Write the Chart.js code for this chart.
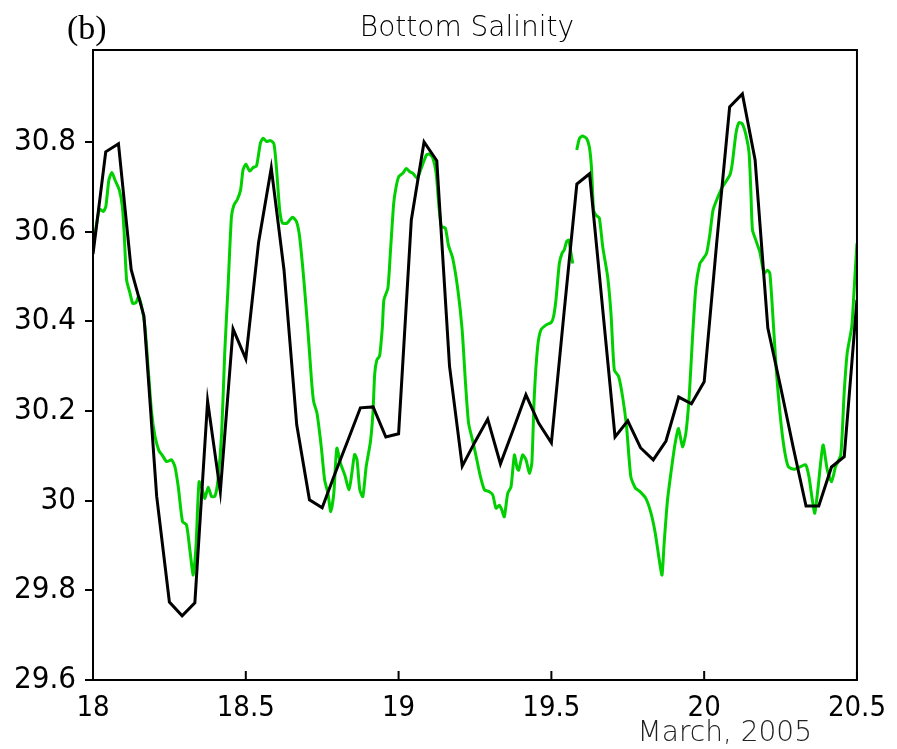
<!DOCTYPE html>
<html>
<head>
<meta charset="utf-8">
<script src="https://cdn.jsdelivr.net/npm/chart.js@4.4.1/dist/chart.umd.min.js"></script>
<style>
  html, body { margin: 0; padding: 0; background: #fff; }
  #wrap { width: 897px; height: 749px; }
</style>
</head>
<body>
<div id="wrap"><canvas id="chart-salinity"></canvas></div>
<script>
// observed (black), hourly from 18 March 00:00 to 20.5
var startDay = 18;
var observed = [30.55, 30.778, 30.796, 30.515, 30.412, 30.01, 29.774, 29.743, 29.772, 30.222,
    30.02, 30.383, 30.316, 30.575, 30.742, 30.515, 30.169, 30.002, 29.984, 30.06,
    30.133, 30.207, 30.209, 30.142, 30.149, 30.626, 30.8, 30.758, 30.30, 30.077,
    30.131, 30.182, 30.082, 30.158, 30.236, 30.173, 30.129, 30.421, 30.706, 30.729,
    30.436, 30.142, 30.178, 30.118, 30.091, 30.133, 30.231, 30.216, 30.265, 30.58,
    30.878, 30.907, 30.76, 30.385, 30.254, 30.118, 29.988, 29.988, 30.075, 30.098,
    30.448];

// model (green)
var modelDays = [18.000, 18.007, 18.021, 18.034, 18.042, 18.052, 18.062, 18.072, 18.086, 18.096,
    18.102, 18.110, 18.121, 18.130, 18.141, 18.149, 18.159, 18.170, 18.181, 18.192,
    18.203, 18.216, 18.226, 18.241, 18.257, 18.268, 18.279, 18.293, 18.306, 18.317,
    18.328, 18.337, 18.347, 18.358, 18.366, 18.377, 18.388, 18.399, 18.409, 18.421,
    18.431, 18.442, 18.453, 18.461, 18.472, 18.483, 18.491, 18.500, 18.513, 18.524,
    18.535, 18.548, 18.557, 18.568, 18.581, 18.592, 18.600, 18.611, 18.620, 18.635,
    18.653, 18.666, 18.676, 18.690, 18.704, 18.715, 18.722, 18.733, 18.747, 18.758,
    18.769, 18.778, 18.788, 18.798, 18.810, 18.824, 18.838, 18.847, 18.856, 18.864,
    18.873, 18.883, 18.894, 18.908, 18.916, 18.922, 18.929, 18.938, 18.947, 18.952,
    18.965, 18.973, 18.984, 18.992, 19.001, 19.014, 19.025, 19.036, 19.047, 19.061,
    19.074, 19.091, 19.101, 19.112, 19.123, 19.132, 19.140, 19.153, 19.163, 19.177,
    19.194, 19.208, 19.219, 19.229, 19.243, 19.254, 19.268, 19.281, 19.297, 19.308,
    19.319, 19.330, 19.338, 19.346, 19.357, 19.368, 19.379, 19.388, 19.393, 19.406,
    19.417, 19.428, 19.436, 19.444, 19.455, 19.466, 19.483, 19.499, 19.507, 19.515,
    19.526, 19.535, 19.542, 19.550, 19.557, 19.564, 19.570, 19.577, 19.583, 19.592,
    19.602, 19.615, 19.624, 19.631, 19.638, 19.646, 19.657, 19.668, 19.684, 19.695,
    19.706, 19.720, 19.733, 19.746, 19.760, 19.775, 19.790, 19.809, 19.826, 19.840,
    19.853, 19.862, 19.869, 19.880, 19.894, 19.905, 19.916, 19.929, 19.940, 19.951,
    19.962, 19.973, 19.986, 19.994, 20.008, 20.019, 20.029, 20.043, 20.060, 20.084,
    20.092, 20.104, 20.114, 20.125, 20.138, 20.147, 20.153, 20.158, 20.169, 20.182,
    20.196, 20.207, 20.215, 20.225, 20.236, 20.247, 20.261, 20.275, 20.294, 20.316,
    20.332, 20.343, 20.354, 20.362, 20.373, 20.389, 20.403, 20.417, 20.430, 20.447,
    20.458, 20.468, 20.483, 20.490, 20.500];
var modelVals = [30.574, 30.597, 30.650, 30.645, 30.656, 30.715, 30.732, 30.715, 30.693, 30.656,
    30.596, 30.492, 30.463, 30.440, 30.442, 30.455, 30.433, 30.388, 30.291, 30.195,
    30.143, 30.111, 30.102, 30.087, 30.091, 30.076, 30.031, 29.953, 29.946, 29.890,
    29.834, 29.897, 30.042, 30.024, 30.005, 30.030, 30.009, 30.010, 30.046, 30.150,
    30.329, 30.477, 30.633, 30.659, 30.671, 30.693, 30.738, 30.750, 30.735, 30.743,
    30.746, 30.798, 30.808, 30.801, 30.803, 30.796, 30.745, 30.648, 30.619, 30.619,
    30.632, 30.622, 30.589, 30.492, 30.373, 30.269, 30.221, 30.195, 30.120, 30.046,
    30.016, 29.975, 30.016, 30.117, 30.083, 30.057, 30.024, 30.061, 30.103, 30.091,
    30.024, 30.009, 30.076, 30.132, 30.195, 30.284, 30.314, 30.323, 30.388, 30.448,
    30.474, 30.552, 30.663, 30.700, 30.723, 30.730, 30.741, 30.734, 30.730, 30.719,
    30.741, 30.771, 30.773, 30.764, 30.730, 30.656, 30.611, 30.608, 30.570, 30.541,
    30.470, 30.381, 30.262, 30.173, 30.132, 30.098, 30.053, 30.024, 30.020, 30.013,
    29.983, 29.990, 29.979, 29.964, 30.016, 30.031, 30.102, 30.072, 30.068, 30.102,
    30.091, 30.061, 30.083, 30.232, 30.343, 30.381, 30.392, 30.397, 30.410, 30.448,
    30.529, 30.552, 30.559, 30.578, 30.581, 30.552, 30.529, null, 30.782, 30.808,
    30.813, 30.808, 30.790, 30.745, 30.648, 30.637, 30.630, 30.566, 30.500, 30.418,
    30.291, 30.277, 30.232, 30.165, 30.053, 30.028, 30.020, 30.005, 29.972, 29.927,
    29.868, 29.834, 29.905, 30.001, 30.076, 30.128, 30.161, 30.120, 30.150, 30.232,
    30.366, 30.477, 30.529, 30.537, 30.552, 30.596, 30.648, 30.674, 30.700, 30.726,
    30.752, 30.819, 30.843, 30.840, 30.812, 30.775, 30.686, 30.604, 30.581, 30.555,
    30.507, 30.514, 30.507, 30.410, 30.291, 30.202, 30.120, 30.076, 30.070, 30.076,
    30.080, 30.053, 30.001, 29.972, 30.031, 30.124, 30.068, 30.042, 30.076, 30.102,
    30.239, 30.329, 30.388, 30.463, 30.574];

var xTicks = [18, 18.5, 19, 19.5, 20, 20.5];
var yTicks = [29.6, 29.8, 30, 30.2, 30.4, 30.6, 30.8];

var chartTitle = "Bottom Salinity";
var panelLabel = "(b)";
var dateLabel = "March, 2005";

var axisFont = "'DejaVu Sans Condensed', 'Liberation Sans Narrow', sans-serif";
var textFont = "'DejaVu Sans', 'Roboto', sans-serif";

var observedPoints = observed.map(function (v, i) {
    return { x: startDay + i / 24, y: v };
});
var modelPoints = modelDays.map(function (d, i) {
    return { x: d, y: modelVals[i] };
});

// frame, inward x tick marks and the extra labels
var framePlugin = {
    id: 'frame',
    afterDraw: function (chart) {
        var c = chart.ctx;
        var a = chart.chartArea;
        var xs = chart.scales.x;
        c.save();
        c.strokeStyle = '#000';
        c.lineWidth = 2;
        c.strokeRect(a.left, a.top, a.right - a.left, a.bottom - a.top);
        xTicks.forEach(function (t) {
            var px = xs.getPixelForValue(t);
            c.beginPath();
            c.moveTo(px, a.bottom);
            c.lineTo(px, a.bottom - 9);
            c.stroke();
        });
        c.fillStyle = '#000';
        c.textAlign = 'center';
        c.textBaseline = 'alphabetic';
        c.font = "200 28px " + textFont;
        c.fillText(chartTitle, 467, 36);
        c.textAlign = 'left';
        c.font = "34px 'Liberation Serif', 'DejaVu Serif', serif";
        c.fillText(panelLabel, 67, 39);
        c.textAlign = 'right';
        c.fillStyle = '#222';
        c.font = "200 28px " + textFont;
        c.fillText(dateLabel, 812, 741);
        c.restore();
    }
};

new Chart(document.getElementById('chart-salinity'), {
    type: 'line',
    data: {
        datasets: [{
            label: 'Observed',
            data: observedPoints,
            borderColor: '#000000',
            borderWidth: 3,
            pointRadius: 0,
            tension: 0,
            fill: false,
        }, {
            label: 'Model',
            data: modelPoints,
            borderColor: '#00d000',
            borderWidth: 3,
            pointRadius: 0,
            tension: 0.2,
            spanGaps: false,
            fill: false,
        }],
    },
    options: {
        responsive: true,
        maintainAspectRatio: false,
        animation: false,
        layout: { padding: { left: 0, right: 39, top: 50, bottom: 0 } },
        plugins: {
            legend: { display: false },
            title: { display: false },
            tooltip: { enabled: false },
        },
        scales: {
            x: {
                type: 'linear',
                min: 18,
                max: 20.5,
                afterBuildTicks: function (scale) {
                    scale.ticks = xTicks.map(function (v) { return { value: v }; });
                },
                afterFit: function (scale) { scale.height = 69; },
                grid: { display: false, drawTicks: false },
                border: { display: false },
                ticks: {
                    color: '#000',
                    padding: 11,
                    maxRotation: 0,
                    font: { size: 29, family: axisFont },
                    callback: function (v) { return String(v); },
                },
            },
            y: {
                type: 'linear',
                min: 29.6,
                max: 31.005,
                afterBuildTicks: function (scale) {
                    scale.ticks = yTicks.map(function (v) { return { value: v }; });
                },
                afterFit: function (scale) { scale.width = 93; },
                grid: {
                    drawOnChartArea: false,
                    drawTicks: true,
                    tickLength: 8,
                    color: '#000',
                    lineWidth: 2,
                },
                border: { display: false },
                ticks: {
                    color: '#000',
                    padding: 9,
                    font: { size: 31, family: axisFont },
                    callback: function (v) { return String(Math.round(v * 10) / 10); },
                },
            },
        },
    },
    plugins: [framePlugin],
});
</script>
</body>
</html>
